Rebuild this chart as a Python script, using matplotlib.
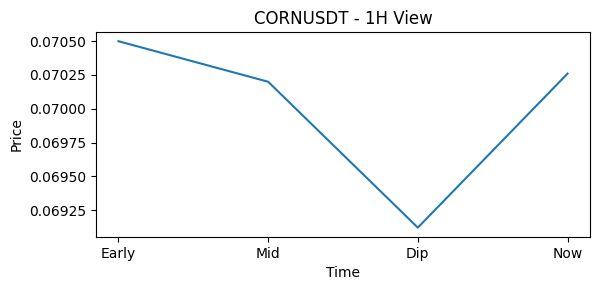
import matplotlib
matplotlib.use("Agg")
import matplotlib.pyplot as plt
from matplotlib.ticker import MultipleLocator, FormatStrFormatter

# Price points
labels = ["Early", "Mid", "Dip", "Now"]
prices = [0.07050, 0.07020, 0.06912, 0.07026]

fig, ax = plt.subplots(figsize=(5.98, 2.9), dpi=100)
ax.plot(labels, prices)
ax.set_title("CORNUSDT - 1H View")
ax.set_xlabel("Time")
ax.set_ylabel("Price")
ax.yaxis.set_major_locator(MultipleLocator(0.00025))
ax.yaxis.set_major_formatter(FormatStrFormatter("%.5f"))

fig.subplots_adjust(left=0.1605, right=0.9866, top=0.89, bottom=0.183)
plt.savefig("out.png", dpi=100)
